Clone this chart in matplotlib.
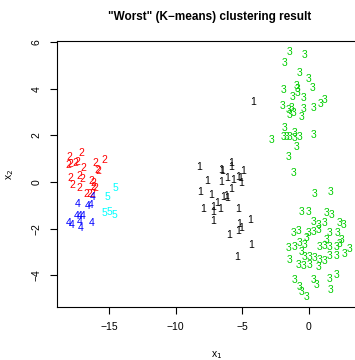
import matplotlib
matplotlib.use("Agg")
import matplotlib.pyplot as plt

plt.rcParams["font.family"] = ["Liberation Sans", "DejaVu Sans"]

# cluster labels and R default palette colours
labels = ["1", "2", "3", "4", "5"]
colors = ["black", "red", "#00CD00", "blue", "cyan"]

# cluster 1 (black)
x_c1 = [-8.23, -6.60, -6.50, -5.85, -5.80, -4.93, -7.60, -6.62, -6.13, -5.72,
        -5.30, -5.18, -5.05, -8.18, -7.30, -6.43, -6.23, -6.13, -5.80, -7.97,
        -7.18, -7.22, -6.88, -6.68, -5.30, -7.22, -5.23, -5.05, -4.43, -5.98,
        -5.30, -4.37, -5.42, -4.18]
y_c1 = [0.63, 0.52, 0.48, 0.83, 0.63, 0.48, 0.06, 0.01, 0.16, 0.09,
        0.23, 0.16, -0.06, -0.42, -0.56, -0.63, -0.60, -0.70, -0.31, -1.17,
        -1.06, -1.27, -0.91, -1.17, -1.17, -1.66, -1.80, -1.96, -1.63, -2.27,
        -2.09, -2.70, -3.21, 3.45]

# cluster 2 (red)
x_c2 = [-17.98, -17.08, -18.03, -17.93, -17.53, -17.35, -16.90, -16.03, -15.36,
        -15.81, -15.87, -17.91, -17.78, -17.20, -17.03, -17.20, -16.35, -16.15,
        -16.20, -16.71, -16.45, -16.03, -16.28]
y_c2 = [1.09, 1.23, 0.73, 0.79, 0.80, 0.87, 0.61, 0.80, 0.94,
        0.47, 0.52, 0.16, -0.13, 0.27, 0.13, -0.24, 0.04, -0.06,
        -0.20, -0.53, -0.53, -0.24, -0.52]

# cluster 3 (green)
x_c3 = [-1.48, -0.30, -1.85, -0.68, -0.05, -0.92, -1.88, 0.28, -0.88, -1.22,
        -0.43, -0.83, -1.97, -1.55, -1.30, -1.18, -1.48, -0.38, -0.55, 0.38,
        0.88, 1.20, -1.80, -1.93, -1.67, -1.43, -1.10, -1.05, -0.73, -0.92,
        -2.80, 0.38, -1.55, -1.18,
        0.45, 1.65, -0.55, -0.05, 1.33, 1.70, 0.32, 0.70, 1.20, 2.33,
        2.57, -1.18, -0.80, -0.05, 0.32, 0.70, 1.58, 2.12, -0.17, 1.33,
        2.45, -1.55, -1.05, -0.68, -0.30, 0.83, 1.20, 1.58, 2.08, 2.33,
        3.08, 2.70, -0.55, -0.30, 0.08, 0.45, 0.83, 1.20, 2.08, 1.58,
        -1.48, -0.80, -0.43, 0.08, 0.70, -1.05, -0.68, -0.55, -0.17, 0.32,
        0.58, 1.58, 2.08, 1.65]
y_c3 = [5.59, 5.45, 5.09, 4.69, 4.41, 4.12, 3.95, 4.02, 3.83, 3.64,
        3.59, 3.99, 3.26, 3.09, 3.16, 2.95, 2.88, 3.12, 2.78, 3.16,
        3.35, 3.52, 2.30, 1.94, 1.94, 1.94, 2.09, 1.88, 1.94, 1.52,
        1.80, 2.02, 1.09, 0.40,
        -0.52, -0.44, -1.27, -1.27, -1.34, -1.42, -1.70, -1.85, -1.75, -1.77,
        -1.85, -2.20, -2.09, -2.18, -2.13, -2.06, -2.18, -2.18, -2.42, -2.49,
        -2.49, -2.85, -2.78, -2.61, -2.70, -2.78, -2.75, -2.80, -2.78, -2.66,
        -2.89, -3.09, -2.99, -3.21, -3.23, -3.27, -3.35, -3.38, -3.18, -3.18,
        -3.35, -3.56, -3.61, -3.56, -3.66, -4.21, -4.49, -4.71, -4.92, -4.21,
        -4.42, -4.18, -3.99, -4.64]

# cluster 4 (blue)
x_c4 = [-17.35, -16.58, -16.41, -16.20, -17.40, -16.98, -18.03, -17.78,
        -17.20, -17.16, -16.33, -17.18]
y_c4 = [-0.96, -1.02, -0.99, -0.63, -1.45, -1.45, -1.77, -1.85,
        -1.70, -1.96, -1.75, -1.46]

# cluster 5 (cyan)
x_c5 = [-14.53, -15.15, -15.33, -14.98, -14.58]
y_c5 = [-0.24, -0.66, -1.34, -1.27, -1.42]

clusters = [(x_c1, y_c1), (x_c2, y_c2), (x_c3, y_c3), (x_c4, y_c4), (x_c5, y_c5)]

fig = plt.figure(figsize=(3.55, 3.6), dpi=100)
ax = fig.add_axes([0.1606, 0.1472, 1.058 - 0.1606, 0.7389])

for lab, col, (xs, ys) in zip(labels, colors, clusters):
    for xi, yi in zip(xs, ys):
        ax.text(xi, yi, lab, color=col, fontsize=7.5, ha="center", va="center")

ax.set_xlim(-18.9, 5.0)
ax.set_ylim(-5.365, 6.05)
ax.set_xticks([-15, -10, -5, 0])
ax.set_xticklabels(["\u221215", "\u221210", "\u22125", "0"])
ax.set_yticks([-4, -2, 0, 2, 4, 6])
ax.set_yticklabels(["\u22124", "\u22122", "0", "2", "4", "6"], rotation=90, va="center")
ax.tick_params(direction="out", length=5, width=0.8, labelsize=7.5, pad=6)
for s in ax.spines.values():
    s.set_linewidth(0.8)

ax.set_xlabel("x$_1$", fontsize=7.5, labelpad=12)
ax.set_ylabel("x$_2$", fontsize=7.5, labelpad=11)
fig.text(0.59, 0.953, "\"Worst\" (K\u2212means) clustering result",
         fontsize=8.5, fontweight="bold", ha="center", va="center")

fig.savefig("out.png", dpi=100)
